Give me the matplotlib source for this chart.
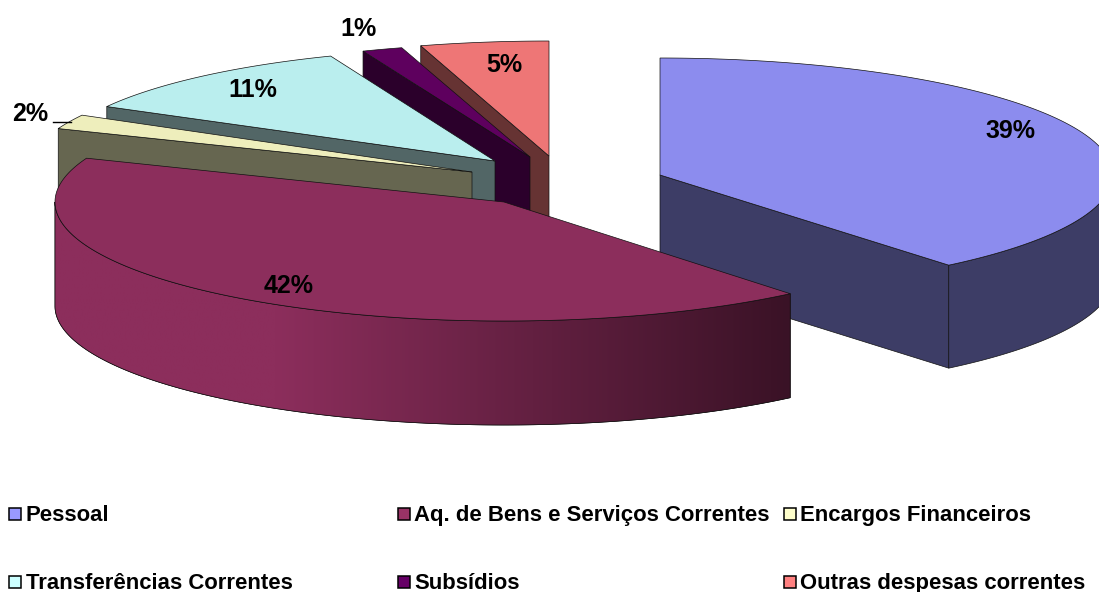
import numpy as np
import matplotlib
matplotlib.use("Agg")
import matplotlib.pyplot as plt
from matplotlib.patches import Polygon
from matplotlib.colors import LinearSegmentedColormap

plt.rcParams['font.family'] = ['Liberation Sans', 'DejaVu Sans']

# --- dados ---
categorias = ["Pessoal", "Aq. de Bens e Serviços Correntes", "Encargos Financeiros",
              "Transferências Correntes", "Subsídios", "Outras despesas correntes"]
valores = [39, 42, 2, 10.95, 1.45, 4.6]
rotulos = ["39%", "42%", "2%", "11%", "1%", "5%"]

# --- cores ---
cor_legenda = ["#9999FF", "#993366", "#FFFFCC", "#CCFFFF", "#660066", "#FF8080"]
cor_topo = ["#8C8CEE", "#8C2E5C", "#EEEEBC", "#BAEEEE", "#5E005E", "#EE7676"]
cor_lado = ["#3D3D66", "#8C2E5C", "#666650", "#526666", "#2B002B", "#663333"]

# --- geometria (pixels da imagem) ---
ALTURA = 103
raio_x = [453, 449, 445, 443, 450, 450]
raio_y = [117, 119, 118, 113, 114, 115]
centros = [(660, 175), (504, 202), (472, 172), (495, 161), (530, 157), (549, 156)]
pos_rotulo = [(1010, 131), (289, 286), (30, 114), (253, 90), (359, 29), (504, 65)]
pos_legenda = [(15, 514), (404, 514), (790, 514), (15, 582), (404, 582), (790, 582)]
base_texto = [521, 521, 521, 589, 589, 589]
ordem = [5, 4, 3, 2, 0, 1]  # de tras para a frente

fim = np.cumsum(valores) / np.sum(valores) * 2 * np.pi
ini = np.r_[0, fim[:-1]]


def arco(i, t0, t1, dy=0):
    c = centros[i]
    t = np.linspace(t0, t1, 200)
    return np.c_[c[0] + raio_x[i] * np.sin(t), c[1] - raio_y[i] * np.cos(t) + dy]


fig = plt.figure(figsize=(10.99, 5.92), dpi=100)
ax = fig.add_axes([0, 0, 1, 1])

for i in ordem:
    c, t0, t1 = centros[i], ini[i], fim[i]
    borda = dict(edgecolor="#111111", linewidth=0.5)

    # parede lateral plana
    if i == 0:
        p = arco(i, t1, t1)[0]
    else:
        p = arco(i, t0, t0)[0]
    if i != 1:
        ax.add_patch(Polygon([c, p, (p[0], p[1] + ALTURA), (c[0], c[1] + ALTURA)],
                             facecolor=cor_lado[i], **borda))

    # parede curva (so a parte da frente)
    a, b = max(t0, np.pi / 2), min(t1, 1.5 * np.pi)
    if a < b:
        cima = arco(i, a, b)
        baixo = arco(i, a, b, ALTURA + (1 if i == 1 else 0))[::-1]
        forma = Polygon(np.r_[cima, baixo], facecolor=cor_lado[i], **borda)
        ax.add_patch(forma)
        if i == 1:
            cmap = LinearSegmentedColormap.from_list(
                "lado", [(0, "#8C2E5C"), (0.3, "#8C2E5C"), (1, "#3A1226")])
            im = ax.imshow(np.linspace(0, 1, 256).reshape(1, -1), cmap=cmap, aspect="auto",
                           extent=(cima[:, 0].min(), cima[:, 0].max(), 450, 150), zorder=1.01)
            im.set_clip_path(forma)
            ax.add_patch(Polygon(np.r_[cima, baixo], facecolor="none", zorder=1.02, **borda))

    # topo
    ax.add_patch(Polygon(np.r_[[c], arco(i, t0, t1)], facecolor=cor_topo[i], zorder=1.03 if i == 1 else 1,
                         **borda))

for txt, (x, y) in zip(rotulos, pos_rotulo):
    ax.text(x, y, txt, fontsize=18, fontweight="bold", color="black", ha="center", va="center", zorder=5)
ax.plot([53, 71], [122, 122], color="black", lw=1, zorder=5)

for nome, cor, (x, y), yb in zip(categorias, cor_legenda, pos_legenda, base_texto):
    ax.plot([x], [y], marker="s", ms=8.5, mfc=cor, mec="black", mew=1.1, ls="none", zorder=5)
    ax.text(x + 10.5, yb, nome, fontsize=15.9, fontweight="bold", color="black", ha="left", va="baseline", zorder=5)

ax.set_xlim(0, 1099)
ax.set_ylim(592, 0)
ax.axis("off")
fig.savefig("out.png", dpi=100, facecolor="white")
